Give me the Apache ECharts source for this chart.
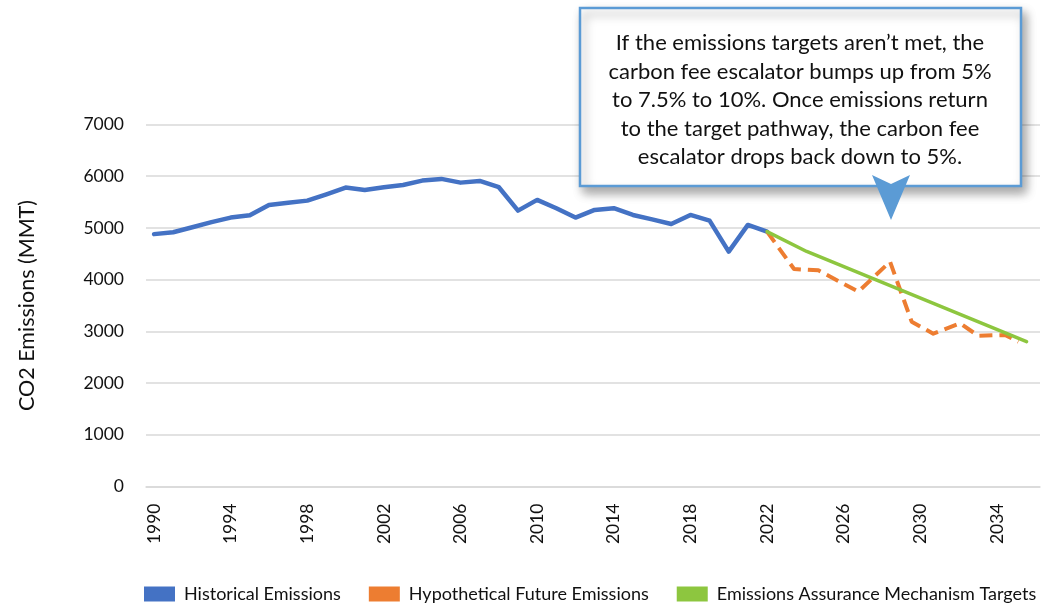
<!DOCTYPE html>
<html>
<head>
<meta charset="utf-8">
<script src="https://cdn.jsdelivr.net/npm/echarts@6/dist/echarts.min.js"></script>
<style>
html,body{margin:0;padding:0;background:#fff;}
#chart{width:1044px;height:606px;}
</style>
</head>
<body>
<div id="chart"></div>
<script>
// ---- data ----
const historicalYears = [1990,1991,1992,1993,1994,1995,1996,1997,1998,1999,2000,2001,2002,2003,2004,2005,2006,2007,2008,2009,2010,2011,2012,2013,2014,2015,2016,2017,2018,2019,2020,2021,2022];
const historicalValues = [4880,4917,5013,5112,5200,5245,5445,5485,5528,5650,5780,5735,5785,5830,5915,5948,5876,5909,5787,5335,5542,5380,5200,5348,5381,5251,5165,5077,5251,5141,4542,5058,4929];
const futureYears = [2022,2023.41,2024.68,2026.77,2028.42,2029.55,2030.68,2032.08,2033.02,2034.42,2035.12];
const futureValues = [4929,4205,4180,3768,4348,3188,2955,3157,2915,2930,2800];
const targetYears = [2022,2024.07,2035.55];
const targetValues = [4929,4545,2800];
const xTickLabels = [1990,1994,1998,2002,2006,2010,2014,2018,2022,2026,2030,2034];
const seriesNames = ['Historical Emissions','Hypothetical Future Emissions','Emissions Assurance Mechanism Targets'];
const yAxisTitle = 'CO2 Emissions (MMT)';
const calloutText = 'If the emissions targets aren\u2019t met, the\ncarbon fee escalator bumps up from 5%\nto 7.5% to 10%. Once emissions return\nto the target pathway, the carbon fee\nescalator drops back down to 5%.';

const zip = (xs, ys) => xs.map((x, i) => [x, ys[i]]);
const FONT = 'Lato';

const chart = echarts.init(document.getElementById('chart'), null, {renderer: 'canvas'});
chart.setOption({
  animation: false,
  backgroundColor: '#ffffff',
  textStyle: {fontFamily: FONT},
  grid: {left: 146, right: 4, top: 124.5, bottom: 119.5, containLabel: false},
  xAxis: {
    type: 'value',
    min: 1989.58,
    max: 2036.25,
    axisLine: {show: true, lineStyle: {color: '#d9d9d9', width: 1.5}},
    axisTick: {show: false},
    splitLine: {show: false},
    axisLabel: {
      customValues: xTickLabels,
      rotate: 90,
      margin: 17,
      fontSize: 17.5,
      color: '#111',
      fontFamily: FONT,
      formatter: v => String(Math.round(v))
    }
  },
  yAxis: {
    type: 'value',
    min: 0,
    max: 7000,
    interval: 1000,
    name: yAxisTitle,
    nameLocation: 'middle',
    nameGap: 108,
    nameTextStyle: {fontSize: 21.5, color: '#111', fontFamily: FONT},
    axisLine: {show: false},
    axisTick: {show: false},
    splitLine: {lineStyle: {color: '#d9d9d9', width: 1.5}},
    axisLabel: {margin: 22, fontSize: 17.5, color: '#111', fontFamily: FONT, formatter: v => String(v)}
  },
  legend: {
    left: 139,
    top: 580,
    width: 1200,
    icon: 'rect',
    itemWidth: 31,
    itemHeight: 15,
    itemGap: 28,
    textStyle: {fontSize: 18, color: '#111', fontFamily: FONT, padding: [0, 0, 0, 4]},
    itemStyle: {borderWidth: 0},
    data: seriesNames
  },
  series: [
    {
      name: seriesNames[0], type: 'line', showSymbol: false, symbol: 'none',
      data: zip(historicalYears, historicalValues),
      color: '#4472c4',
      lineStyle: {color: '#4472c4', width: 4.5, cap: 'round', join: 'round'},
      z: 3
    },
    {
      name: seriesNames[1], type: 'line', showSymbol: false, symbol: 'none',
      data: zip(futureYears, futureValues),
      color: '#ed7d31',
      lineStyle: {color: '#ed7d31', width: 4, type: [13, 7], join: 'round'},
      z: 4
    },
    {
      name: seriesNames[2], type: 'line', showSymbol: false, symbol: 'none',
      data: zip(targetYears, targetValues),
      color: '#8dc63f',
      lineStyle: {color: '#8dc63f', width: 3.5, cap: 'round', join: 'round'},
      z: 5
    }
  ],
  graphic: [
    {
      type: 'rect', z: 100,
      shape: {x: 580, y: 8, width: 441, height: 178},
      style: {fill: '#ffffff', stroke: '#5b9bd5', lineWidth: 2.5,
        shadowBlur: 10, shadowColor: 'rgba(0,0,0,0.35)', shadowOffsetX: 4, shadowOffsetY: 6}
    },
    {
      type: 'text', z: 101,
      x: 800, y: 29,
      style: {text: calloutText, font: '22px ' + FONT, fill: '#111', align: 'center', verticalAlign: 'top', lineHeight: 28.5}
    },
    {
      type: 'polygon', z: 102,
      shape: {points: [[872,175],[891,184],[910,175],[891,220]]},
      style: {fill: '#5b9bd5'}
    }
  ]
});
</script>
</body>
</html>
